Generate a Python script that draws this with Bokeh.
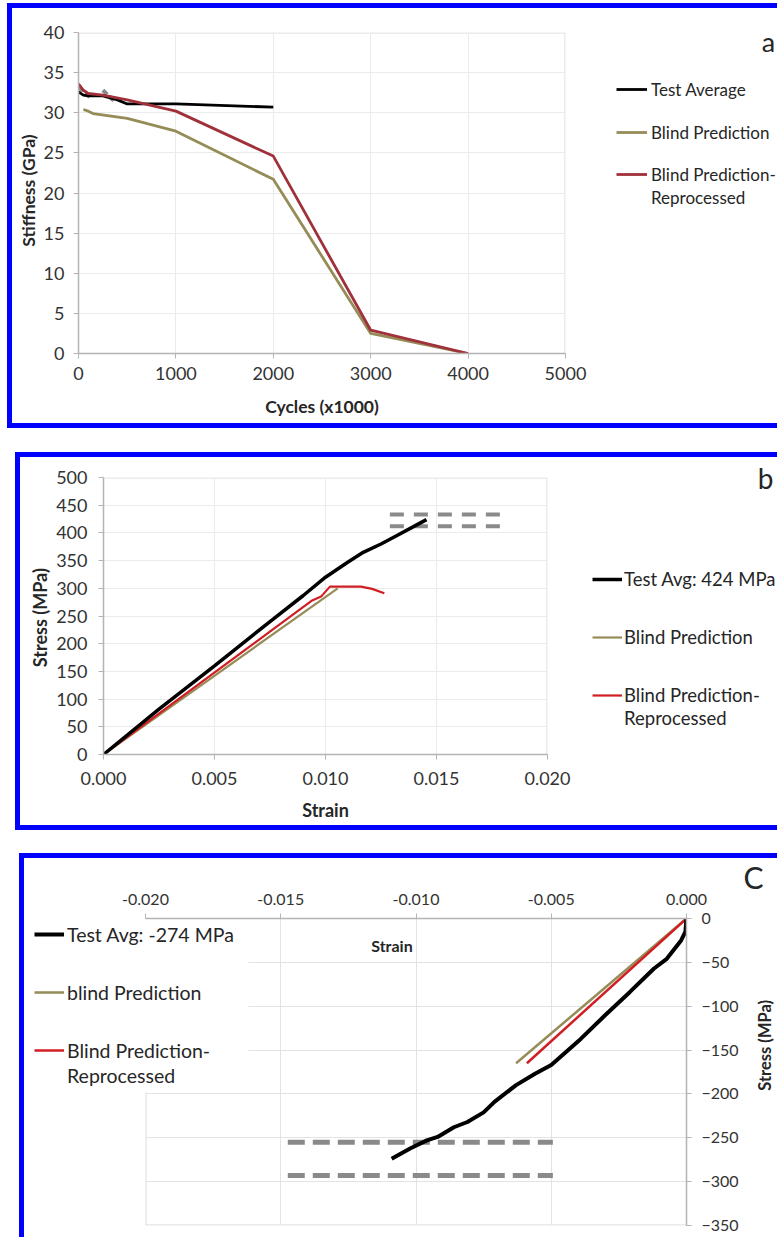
from bokeh.plotting import figure
from bokeh.models import (Range1d, FixedTicker, NumeralTickFormatter, Legend, LegendItem,
                          Label, BoxAnnotation)
from bokeh.embed import file_html
from bokeh.resources import INLINE

FONT = "Lato"
TXT = "#262626"
TICK = "#333333"
OLIVE = "#958C58"
RED_A = "#A0303A"
RED_B = "#D01E24"
GRAY_DASH = "#8A8A8A"
FRAME = "#B4B4B4"
BLUE = "#0000FF"

# ---------------- Panel a data (Stiffness vs cycles) ----------------
a_x_ticks = [0, 1000, 2000, 3000, 4000, 5000]
a_y_ticks = [0, 5, 10, 15, 20, 25, 30, 35, 40]
a_test_x = [0, 50, 100, 250, 400, 500, 1000, 2000]
a_test_y = [32.6, 32.2, 32.1, 32.1, 31.6, 31.1, 31.1, 30.7]
a_blind_x = [50, 100, 150, 500, 1000, 2000, 3000, 4000]
a_blind_y = [30.4, 30.2, 29.9, 29.3, 27.7, 21.7, 2.5, 0.0]
a_repro_x = [0, 50, 100, 250, 500, 1000, 2000, 3000, 4000]
a_repro_y = [33.6, 32.8, 32.4, 32.2, 31.6, 30.2, 24.6, 2.9, 0.0]
a_band1_x = [0, 120]
a_band1_y = [33.2, 31.9]
a_band2_x = [250, 380]
a_band2_y = [32.8, 31.3]
a_labels = ["Test Average", "Blind Prediction", "Blind Prediction-", "Reprocessed"]

# ---------------- Panel b data (tension) ----------------
b_x_ticks = [0.0, 0.005, 0.010, 0.015, 0.020]
b_y_ticks = [0, 50, 100, 150, 200, 250, 300, 350, 400, 450, 500]
b_test_x = [0, 0.0025, 0.005, 0.0075, 0.009, 0.010, 0.011, 0.0117, 0.0125, 0.0132, 0.0139, 0.01455]
b_test_y = [0, 82, 160, 240, 287, 320, 347, 365, 380, 395, 410, 424]
b_blind_x = [0, 0.01055]
b_blind_y = [0, 300]
b_repro_x = [0, 0.0094, 0.0098, 0.0102, 0.0116, 0.0121, 0.01265]
b_repro_y = [0, 278, 285, 303, 303, 299, 291]
b_band_x = [0.0129, 0.0180]
b_band_hi = [433, 433]
b_band_lo = [412, 412]
b_labels = ["Test Avg: 424 MPa", "Blind Prediction", "Blind Prediction-", "Reprocessed"]

# ---------------- Panel c data (compression) ----------------
c_x_ticks = [-0.020, -0.015, -0.010, -0.005, 0.000]
c_y_ticks = [0, -50, -100, -150, -200, -250, -300, -350]
c_test_x = [0, -0.00004, -0.0002, -0.00073, -0.0012, -0.0021, -0.0030, -0.0039, -0.0050,
            -0.0056, -0.0063, -0.0071, -0.0075, -0.0081, -0.0086, -0.0092, -0.0096, -0.0102, -0.0109]
c_test_y = [0, -15, -25, -46, -57, -84, -110, -137, -167,
            -177, -190, -209, -221, -232, -238, -249, -253, -262, -274]
c_blind_x = [0, -0.0063]
c_blind_y = [0, -165]
c_repro_x = [0, -0.0059]
c_repro_y = [0, -165]
c_band_x = [-0.01474, -0.00494]
c_band_hi = [-255, -255]
c_band_lo = [-293, -293]
c_labels = ["Test Avg: -274 MPa", "blind Prediction", "Blind Prediction-", "Reprocessed"]


def style_axis(ax, tick_size, standoff, bounds):
    ax.bounds = bounds
    ax.axis_line_color = FRAME
    ax.axis_line_width = 1.5
    ax.major_tick_line_color = FRAME
    ax.major_tick_out = 5
    ax.major_tick_in = 0
    ax.minor_tick_line_color = None
    ax.major_label_standoff = standoff
    ax.major_label_text_font = FONT
    ax.major_label_text_font_size = tick_size
    ax.major_label_text_color = TICK


def add_item(p, renderer, label, x, y, gw, standoff, size, h=26):
    lg = Legend(items=[LegendItem(label=label, renderers=[renderer])], location=(x, y),
                padding=0, margin=0, spacing=0, border_line_alpha=0,
                background_fill_alpha=0, glyph_width=gw, glyph_height=h,
                label_height=h, label_standoff=standoff, label_text_font=FONT,
                label_text_font_size=size, label_text_color=TXT,
                label_text_baseline="middle")
    p.add_layout(lg)


def side_label(p, side, x, y, text, size, angle=0, bold=True):
    p.add_layout(Label(x=x, y=y, text=text, text_font=FONT, text_font_size=size,
                       text_font_style="bold" if bold else "normal", text_color=TXT,
                       text_align="center", text_baseline="middle", angle=angle,
                       angle_units="deg"), side)


def cover(p, **kw):
    p.add_layout(BoxAnnotation(fill_color="white", fill_alpha=1, line_color=None,
                               level="underlay", **kw))


def make_fig(w, h, xr, yr, mb, sides, margin, **kw):
    # the drawing canvas is (w + left border) x (h + top/bottom borders), starting at the
    # inner corner of the blue frame; only the w x h inner box is shown
    styles = {"box-sizing": "content-box"}
    for s in sides:
        styles[f"border-{s}"] = f"5px solid {BLUE}"
    p = figure(width=w, height=h, x_range=xr, y_range=yr, output_backend="svg",
               toolbar_location=None, min_border_left=mb[0], min_border_right=mb[1],
               min_border_top=mb[2], min_border_bottom=mb[3],
               background_fill_color="white", border_fill_color="white",
               styles=styles, margin=margin, **kw)
    p.outline_line_color = None
    return p


# ================= Panel a =================
A_XEND = a_x_ticks[-1] * 704 / 487
A_YEND = a_y_ticks[-1] * 325 / 321
pa = make_fig(765, 415, Range1d(0, A_XEND), Range1d(0, A_YEND), (66, 0, 20, 80),
              ["left", "top", "bottom"], (3, 0, 0, 7))
pa.xaxis.ticker = FixedTicker(ticks=a_x_ticks)
pa.yaxis.ticker = FixedTicker(ticks=a_y_ticks)
style_axis(pa.xaxis[0], "18px", 8, (a_x_ticks[0], a_x_ticks[-1]))
style_axis(pa.yaxis[0], "18px", 9, (a_y_ticks[0], a_y_ticks[-1]))
pa.grid.grid_line_color = "#EBEBEB"
cover(pa, left=a_x_ticks[-1])
cover(pa, bottom=a_y_ticks[-1])
pa.line([a_x_ticks[0], a_x_ticks[-1]], [a_y_ticks[-1]] * 2, line_color=FRAME, line_width=1.5, level="underlay")
pa.line([a_x_ticks[-1]] * 2, [a_y_ticks[0], a_y_ticks[-1]], line_color=FRAME, line_width=1.5, level="underlay")

pa.line(a_band1_x, a_band1_y, line_color=GRAY_DASH, line_width=4, line_dash="6 3")
pa.line(a_band2_x, a_band2_y, line_color=GRAY_DASH, line_width=4, line_dash="6 3")
ra_test = pa.line(a_test_x, a_test_y, line_color="black", line_width=2.8)
ra_blind = pa.line(a_blind_x, a_blind_y, line_color=OLIVE, line_width=2.8)
ra_repro = pa.line(a_repro_x, a_repro_y, line_color=RED_A, line_width=2.8)
ra_dummy = pa.line(x=[], y=[], line_alpha=0)

add_item(pa, ra_test, a_labels[0], 538, 251, 31, 4, "17px")
add_item(pa, ra_blind, a_labels[1], 538, 208, 31, 4, "17px")
add_item(pa, ra_repro, a_labels[2], 538, 166, 31, 4, "17px")
add_item(pa, ra_dummy, a_labels[3], 538, 143, 31, 4, "17px")
pa.add_layout(Label(x=7085, y=38.9, text="a", text_font=FONT, text_font_size="27px",
                    text_color=TXT, text_align="center", text_baseline="middle"))
side_label(pa, "below", 2500, -6.6, "Cycles (x1000)", "17.5px")
side_label(pa, "left", -513, 20.3, "Stiffness (GPa)", "17.5px", angle=90)

# ================= Panel b =================
B_XEND = b_x_ticks[-1] * 679 / 444
B_YEND = b_y_ticks[-1] * 297 / 277
pb = make_fig(757, 368, Range1d(0, B_XEND), Range1d(0, B_YEND), (83, 0, 0, 81),
              ["left", "top", "bottom"], (24, 0, 0, 15))
pb.xaxis.ticker = FixedTicker(ticks=b_x_ticks)
pb.yaxis.ticker = FixedTicker(ticks=b_y_ticks)
pb.xaxis.formatter = NumeralTickFormatter(format="0.000")
style_axis(pb.xaxis[0], "18px", 12, (b_x_ticks[0], b_x_ticks[-1]))
style_axis(pb.yaxis[0], "18px", 11, (b_y_ticks[0], b_y_ticks[-1]))
pb.grid.grid_line_color = "#EBEBEB"
cover(pb, left=b_x_ticks[-1])
cover(pb, bottom=b_y_ticks[-1])
pb.line([b_x_ticks[0], b_x_ticks[-1]], [b_y_ticks[-1]] * 2, line_color=FRAME, line_width=1.5, level="underlay")
pb.line([b_x_ticks[-1]] * 2, [b_y_ticks[0], b_y_ticks[-1]], line_color=FRAME, line_width=1.5, level="underlay")

pb.line(b_band_x, b_band_hi, line_color=GRAY_DASH, line_width=4, line_dash="14 10")
pb.line(b_band_x, b_band_lo, line_color=GRAY_DASH, line_width=4, line_dash="14 10")
rb_blind = pb.line(b_blind_x, b_blind_y, line_color=OLIVE, line_width=2.2)
rb_repro = pb.line(b_repro_x, b_repro_y, line_color=RED_B, line_width=2.2)
rb_test = pb.line(b_test_x, b_test_y, line_color="black", line_width=3.5)
rb_dummy = pb.line(x=[], y=[], line_alpha=0)

add_item(pb, rb_test, b_labels[0], 489, 162, 30, 2, "18.5px")
add_item(pb, rb_blind, b_labels[1], 489, 104, 30, 2, "18.5px")
add_item(pb, rb_repro, b_labels[2], 489, 46, 30, 2, "18.5px")
add_item(pb, rb_dummy, b_labels[3], 489, 23, 30, 2, "18.5px")
pb.add_layout(Label(x=0.02982, y=499, text="b", text_font=FONT, text_font_size="28px",
                    text_color=TXT, text_align="center", text_baseline="middle"))
side_label(pb, "below", 0.010, -101, "Strain", "18px")
side_label(pb, "left", -0.002838, 247, "Stress (MPa)", "18px", angle=90)

# ================= Panel c =================
C_XSTART = c_x_ticks[0] * 662 / 541
C_YSTART = c_y_ticks[-1] * 311 / 307
pc = make_fig(753, 379, Range1d(C_XSTART, 0), Range1d(C_YSTART, 0), (0, 96, 60, 13),
              ["left", "top"], (23, 0, 0, 19),
              x_axis_location="above", y_axis_location="right")
pc.xaxis.ticker = FixedTicker(ticks=c_x_ticks)
pc.yaxis.ticker = FixedTicker(ticks=c_y_ticks)
pc.xaxis.formatter = NumeralTickFormatter(format="0.000")
style_axis(pc.xaxis[0], "16px", 9, (c_x_ticks[0], c_x_ticks[-1]))
style_axis(pc.yaxis[0], "16px", 10, (c_y_ticks[-1], c_y_ticks[0]))
pc.grid.grid_line_color = "#E3E3E3"
cover(pc, right=c_x_ticks[0])
cover(pc, top=c_y_ticks[-1])
pc.line([c_x_ticks[0]] * 2, [c_y_ticks[-1], c_y_ticks[0]], line_color=FRAME, line_width=1.5, level="underlay")
pc.line([c_x_ticks[0], c_x_ticks[-1]], [c_y_ticks[-1]] * 2, line_color=FRAME, line_width=1.5, level="underlay")
cover(pc, right=-0.0162, bottom=-198)

pc.line(c_band_x, c_band_hi, line_color=GRAY_DASH, line_width=5, line_dash="17 8")
pc.line(c_band_x, c_band_lo, line_color=GRAY_DASH, line_width=5, line_dash="17 8")
rc_blind = pc.line(c_blind_x, c_blind_y, line_color=OLIVE, line_width=2.5)
rc_repro = pc.line(c_repro_x, c_repro_y, line_color=RED_B, line_width=2.5)
rc_test = pc.line(c_test_x, c_test_y, line_color="black", line_width=4)
rc_dummy = pc.line(x=[], y=[], line_alpha=0)

add_item(pc, rc_test, c_labels[0], 10, 282, 30, 3, "19.5px")
add_item(pc, rc_blind, c_labels[1], 10, 224, 30, 3, "19.5px")
add_item(pc, rc_repro, c_labels[2], 10, 166, 30, 3, "19.5px")
add_item(pc, rc_dummy, c_labels[3], 10, 141, 30, 3, "19.5px")
pc.add_layout(Label(x=-0.01089, y=-30.5, text="Strain", text_font=FONT, text_font_size="16px",
                    text_font_style="bold", text_color=TXT, text_align="center",
                    text_baseline="middle"))
side_label(pc, "right", 0.00248, 47, "C", "30px", bold=False)
side_label(pc, "right", 0.00292, -144.6, "Stress (MPa)", "16.5px", angle=90)

open("out.html", "w").write(file_html([pa, pb, pc], INLINE))
